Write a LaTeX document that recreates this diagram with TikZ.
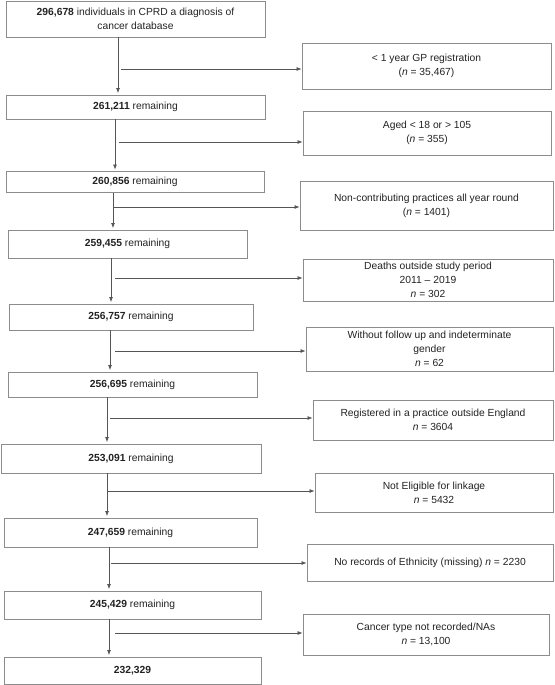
\documentclass[tikz,border=0pt]{standalone}
\usepackage{fontspec}
\setmainfont{Liberation Sans}
\usetikzlibrary{arrows.meta}
\definecolor{boxline}{HTML}{8C8C8C}
\definecolor{arrline}{HTML}{555555}
\definecolor{txt}{HTML}{222222}
\tikzset{
  mainbox/.style={draw=boxline, line width=0.9pt, align=center, inner sep=0pt, text=txt,
    font=\fontsize{10.3}{14}\selectfont},
  sidebox/.style={mainbox},
  flow/.style={draw=arrline, line width=0.7pt, -{Latex[length=5pt,width=4pt]}},
}
\newcommand{\nn}{\textit{n}}
\begin{document}
\begin{tikzpicture}[x=1pt,y=-1pt]
\useasboundingbox (0,0) rectangle (554,685);
% main boxes
\node[mainbox, minimum width=259pt, minimum height=36pt] (b1) at (135.5,19) {\textbf{296,678} individuals in CPRD a diagnosis of\\cancer database};
\node[mainbox, minimum width=259pt, minimum height=24pt] (b2) at (135.5,107) {\textbf{261,211} remaining};
\node[mainbox, minimum width=258pt, minimum height=21pt] (b3) at (135,182) {\textbf{260,856} remaining};
\node[mainbox, minimum width=239pt, minimum height=28pt] (b4) at (127.5,244) {\textbf{259,455} remaining};
\node[mainbox, minimum width=244pt, minimum height=26pt] (b5) at (131,317) {\textbf{256,757} remaining};
\node[mainbox, minimum width=249pt, minimum height=25pt] (b6) at (132.5,384.5) {\textbf{256,695} remaining};
\node[mainbox, minimum width=260pt, minimum height=29pt] (b7) at (131,458.5) {\textbf{253,091} remaining};
\node[mainbox, minimum width=253pt, minimum height=29pt] (b8) at (130.5,532.5) {\textbf{247,659} remaining};
\node[mainbox, minimum width=257pt, minimum height=28pt] (b9) at (132.5,605) {\textbf{245,429} remaining};
\node[mainbox, minimum width=257pt, minimum height=27pt] (b10) at (132.5,670.5) {\textbf{232,329}};
% side boxes
\node[sidebox, minimum width=249pt, minimum height=46pt] (r1) at (426.5,66) {< 1 year GP registration\\(\nn{} = 35,467)};
\node[sidebox, minimum width=248pt, minimum height=44pt] (r2) at (427,133) {Aged < 18 or > 105\\(\nn{} = 355)};
\node[sidebox, minimum width=253pt, minimum height=49pt] (r3) at (426.5,205.5) {Non-contributing practices all year round\\(\nn{} = 1401)};
\node[sidebox, minimum width=250pt, minimum height=42pt] (r4) at (428,280) {Deaths outside study period\\2011 – 2019\\\nn{} = 302};
\node[sidebox, minimum width=247pt, minimum height=44pt] (r5) at (429.5,349) {Without follow up and indeterminate\\gender\\\nn{} = 62};
\node[sidebox, minimum width=240pt, minimum height=40pt] (r6) at (433,420) {Registered in a practice outside England\\\nn{} = 3604};
\node[sidebox, minimum width=238pt, minimum height=39pt] (r7) at (434,492.5) {Not Eligible for linkage\\\nn{} = 5432};
\node[sidebox, minimum width=246pt, minimum height=37pt] (r8) at (430,562.5) {No records of Ethnicity (missing) \nn{} = 2230};
\node[sidebox, minimum width=246pt, minimum height=41pt] (r9) at (426,634.5) {Cancer type not recorded/NAs\\\nn{} = 13,100};
% vertical lines x positions and branch points
\coordinate (v1) at (118,0);
\coordinate (v2) at (115,0);
\coordinate (v3) at (113,0);
\coordinate (v4) at (111,0);
\coordinate (v5) at (110,0);
\coordinate (v6) at (107,0);
\coordinate (v7) at (107,0);
\coordinate (v8) at (109,0);
\coordinate (v9) at (109,0);
\coordinate (s1) at (121,69);
\coordinate (s2) at (119,142);
\coordinate (s3) at (114,207);
\coordinate (s4) at (115,278);
\coordinate (s5) at (115,351);
\coordinate (s6) at (110,418);
\coordinate (s7) at (108,491);
\coordinate (s8) at (111,563);
\coordinate (s9) at (115,633);
% vertical arrows
\draw[flow, shorten >=1.5pt] (b1.south -| v1) -- (b2.north -| v1);
\draw[flow, shorten >=1.5pt] (b2.south -| v2) -- (b3.north -| v2);
\draw[flow, shorten >=1.5pt] (b3.south -| v3) -- (b4.north -| v3);
\draw[flow, shorten >=1.5pt] (b4.south -| v4) -- (b5.north -| v4);
\draw[flow, shorten >=1.5pt] (b5.south -| v5) -- (b6.north -| v5);
\draw[flow, shorten >=1.5pt] (b6.south -| v6) -- (b7.north -| v6);
\draw[flow, shorten >=1.5pt] (b7.south -| v7) -- (b8.north -| v7);
\draw[flow, shorten >=1.5pt] (b8.south -| v8) -- (b9.north -| v8);
\draw[flow, shorten >=1.5pt] (b9.south -| v9) -- (b10.north -| v9);
% horizontal arrows
\draw[flow] (s1) -- (r1.west |- s1);
\draw[flow] (s2) -- (r2.west |- s2);
\draw[flow] (s3) -- (r3.west |- s3);
\draw[flow] (s4) -- (r4.west |- s4);
\draw[flow] (s5) -- (r5.west |- s5);
\draw[flow] (s6) -- (r6.west |- s6);
\draw[flow] (s7) -- (r7.west |- s7);
\draw[flow] (s8) -- (r8.west |- s8);
\draw[flow] (s9) -- (r9.west |- s9);
\end{tikzpicture}
\end{document}
